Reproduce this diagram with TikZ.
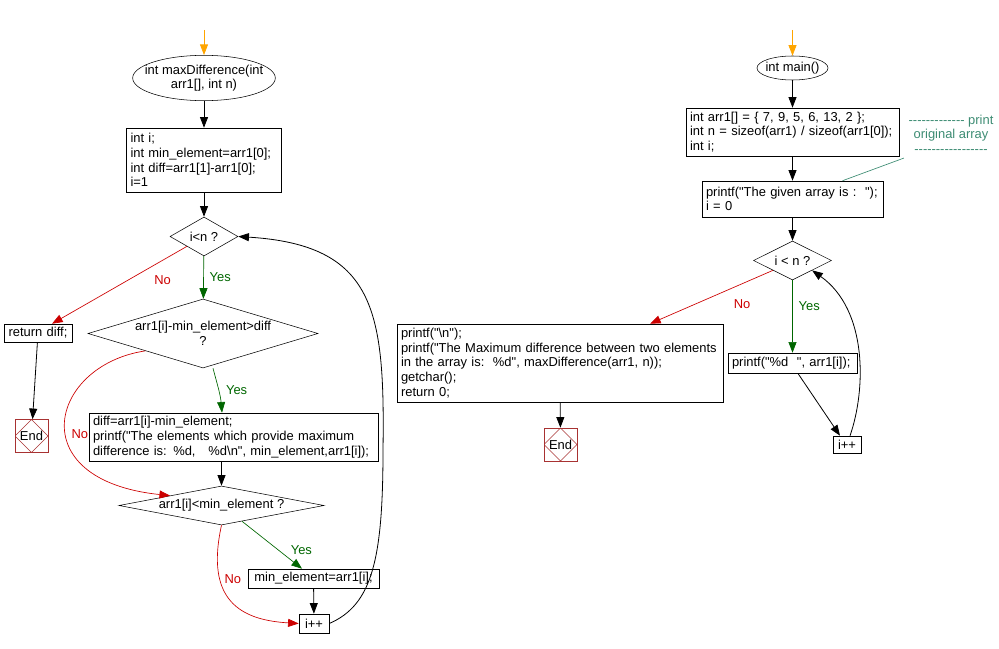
\documentclass[tikz,border=0pt]{standalone}
\usepackage{fontspec}
\setmainfont{Liberation Sans}[Ligatures={TeXOff,CommonOff}]
\usetikzlibrary{shapes.geometric, arrows.meta, calc}
\usepackage{xcolor}

\definecolor{noRed}{HTML}{CC0000}
\definecolor{yesGreen}{HTML}{006600}
\definecolor{startOrange}{HTML}{FFA500}
\definecolor{endRed}{HTML}{A83232}
\definecolor{noteTeal}{HTML}{3D8C73}

\begin{document}
\begin{tikzpicture}[x=0.75pt, y=-0.75pt,
    font=\fontsize{9.7pt}{11pt}\selectfont,
    >={Triangle[length=8pt,width=6pt]},
    codeBox/.style={draw, rectangle, align=left, inner xsep=3pt, inner ysep=1pt},
    termNode/.style={draw, ellipse, inner sep=0pt},
    decisionNode/.style={draw, diamond, inner sep=0pt},
    endNode/.style={draw=endRed, rectangle, inner sep=0pt, minimum size=24.75pt,
        path picture={\draw[endRed] (path picture bounding box.north) -- (path picture bounding box.east)
            -- (path picture bounding box.south) -- (path picture bounding box.west) -- cycle;}},
    flowArrow/.style={->, line width=0.6pt},
    startArrow/.style={->, line width=0.6pt, startOrange},
    noArrow/.style={->, line width=0.5pt, noRed},
    yesArrow/.style={->, line width=0.5pt, yesGreen},
    noLabel/.style={text=noRed},
    yesLabel/.style={text=yesGreen},
    noteLine/.style={line width=0.5pt, noteTeal}]

    % Cadre de l'image
    \useasboundingbox (0,0) rectangle (999,649);

    % Fonction maxDifference
    \coordinate (startDiff) at (204,30);
    \node[termNode, minimum width=107pt, minimum height=34pt,
        label={[align=center]center:int maxDifference(int\\arr1[], int n)}] (maxFn) at (204,78) {};
    \node[codeBox, text width=110.25pt, minimum height=48pt] (initDiff) at (204,160)
        {int i;\\int min\_element=arr1[0];\\int diff=arr1[1]-arr1[0];\\i=1};
    \node[decisionNode, minimum width=51pt, minimum height=29.25pt, label=center:{i<n ?}] (loopCond) at (204,236.5) {};
    \node[decisionNode, minimum width=172.5pt, minimum height=51.75pt,
        label={[align=center]center:arr1[i]-min\_element>diff\\?}] (diffCond) at (203,333.5) {};
    \node[codeBox, align=center, text width=45pt, minimum height=13.5pt] (retDiff) at (38,333) {return diff;};
    \node[endNode] (endDiff) at (31.5,436) {End};
    \node[codeBox, text width=210.75pt, minimum height=36pt] (updDiff) at (233.5,437)
        {diff=arr1[i]-min\_element;\\printf("The elements which provide maximum\\difference is: \%d,~~~\%d\textbackslash n", min\_element,arr1[i]);};
    \node[decisionNode, minimum width=153.75pt, minimum height=29.25pt,
        label=center:{arr1[i]<min\_element ?}] (minCond) at (221.5,505.5) {};
    \node[codeBox, align=center, text width=92pt, minimum height=14.25pt] (minBox) at (313.5,578.5) {min\_element=arr1[i];};
    \node[codeBox, align=center, text width=16.5pt, minimum height=14.25pt] (incDiff) at (314,623.5) {i++};

    % Liaisons de maxDifference
    \draw[startArrow] (startDiff) -- (maxFn);
    \draw[flowArrow] (maxFn) -- (initDiff);
    \draw[flowArrow] (initDiff) -- (loopCond);
    \draw[noArrow] (loopCond.south west) -- ([xshift=10.5pt]retDiff.north) node[noLabel, pos=0.18, below=8pt] {No};
    \draw[yesArrow] (loopCond) -- (diffCond) node[yesLabel, midway, right=1pt] {Yes};
    \draw[flowArrow] (retDiff) -- (endDiff);
    \draw[yesArrow] ([xshift=7.5pt]diffCond.south) to[out=-75, in=95]
        node[yesLabel, midway, right=2pt] {Yes} ([xshift=-8.6pt]updDiff.north);
    \draw[noArrow] (diffCond.south west) .. controls (50,365) and (20,480) .. (minCond.north west)
        node[noLabel, pos=0.56, right] {No};
    \draw[flowArrow] (minCond.north |- updDiff.south) -- (minCond.north);
    \draw[yesArrow] ($(minCond.south)!0.2!(minCond.east)$) -- ([xshift=-8.6pt]minBox.north)
        node[yesLabel, pos=0.6, right=6pt] {Yes};
    \draw[noArrow] (minCond.south) .. controls (205,600) and (240,620) .. (incDiff.west)
        node[noLabel, pos=0.3, right] {No};
    \draw[flowArrow] (minBox) -- (incDiff);
    \draw[flowArrow] (incDiff.east) .. controls (372,605) and (383,560) .. (383,450)
        .. controls (385,310) and (375,245) .. (loopCond.east);

    % Fonction main
    \coordinate (startMain) at (792.5,30);
    \node[termNode, minimum width=53.25pt, minimum height=18pt, label=center:{int main()}] (mainFn) at (792.5,68) {};
    \node[codeBox, text width=153.75pt, minimum height=36pt] (initMain) at (792.5,132)
        {int arr1[] = \{ 7, 9, 5, 6, 13, 2 \};\\int n = sizeof(arr1) / sizeof(arr1[0]);\\int i;};
    \node[text=noteTeal, align=center] (note) at (951,134)
        {------------- print\\original array\\-----------------};
    \node[codeBox, text width=129.75pt, minimum height=27pt] (printGiven) at (792.5,199)
        {printf("The given array is :~~");\\i = 0};
    \node[decisionNode, minimum width=58.5pt, minimum height=29.25pt, label=center:{i < n ?}] (mainCond) at (792.5,260.5) {};
    \node[codeBox, text width=238.5pt, minimum height=58.5pt] (printResult) at (560,363)
        {printf("\textbackslash n");\\printf("The Maximum difference between two elements\\in the array is:~~\%d", maxDifference(arr1, n));\\getchar();\\return 0;};
    \node[endNode] (endMain) at (560.5,444.5) {End};
    \node[codeBox, text width=90.75pt, minimum height=15pt] (printElem) at (792.5,363) {printf("\%d~~", arr1[i]);};
    \node[codeBox, align=center, text width=15pt, minimum height=12.75pt] (incMain) at (847,444.5) {i++};

    % Liaisons de main
    \draw[startArrow] (startMain) -- (mainFn);
    \draw[flowArrow] (mainFn) -- (initMain);
    \draw[flowArrow] (initMain) -- (printGiven);
    \draw[noteLine] (note.south west) -- ([xshift=37.5pt]printGiven.north);
    \draw[flowArrow] (printGiven) -- (mainCond);
    \draw[noArrow] (mainCond.south west) -- ([xshift=67.5pt]printResult.north) node[noLabel, pos=0.25, below=8pt] {No};
    \draw[yesArrow] (mainCond) -- (printElem) node[yesLabel, pos=0.35, right=1pt] {Yes};
    \draw[flowArrow] (printResult) -- (endMain);
    \draw[flowArrow] ([xshift=4pt]printElem.south) -- ([xshift=-5.25pt]incMain.north);
    \draw[flowArrow] ([xshift=2.25pt]incMain.north) .. controls (866,390) and (868,310) .. (mainCond.south east);

\end{tikzpicture}
\end{document}
